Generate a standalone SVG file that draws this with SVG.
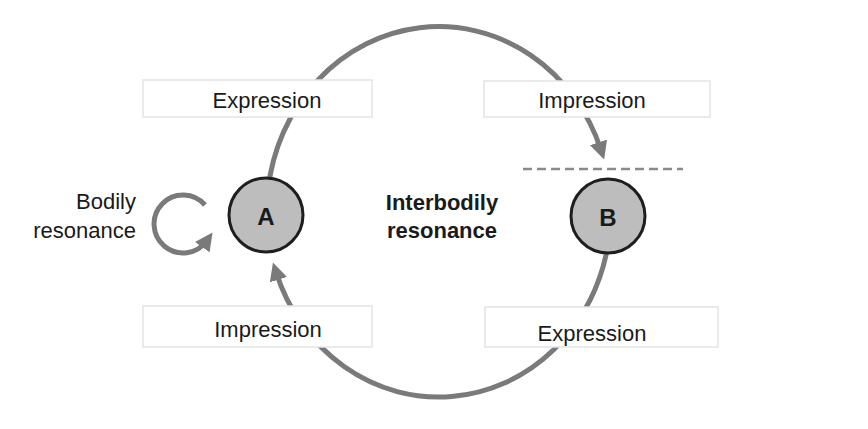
<svg xmlns="http://www.w3.org/2000/svg" width="868" height="429" viewBox="0 0 868 429">
<defs>
<style>
.arc{fill:none;stroke:#7a7a7a;stroke-width:5;stroke-linecap:butt}
.box{fill:#fff;stroke:#e4e4e4;stroke-width:1.5}
.lbl{font-family:"Liberation Sans",Arial,sans-serif;font-size:22px;fill:#1a1a1a}
.bold{font-weight:bold}
.node{fill:#bdbdbd;stroke:#1e1e1e;stroke-width:3}
.dash{stroke:#8a8a8a;stroke-width:2.5;stroke-dasharray:9 5}
</style>
<marker id="ah" markerUnits="userSpaceOnUse" markerWidth="18" markerHeight="18" refX="8" refY="9" orient="auto">
<path d="M0,0 L18,9 L0,18 z" fill="#7a7a7a"/>
</marker>
</defs>
<rect width="868" height="429" fill="#fff"/>
<g id="connectors">
<path class="arc" d="M 268 190 A 172 185 0 0 1 601 150" marker-end="url(#ah)"/>
<path class="arc" d="M 608 245 A 172 185 0 0 1 276 272" marker-end="url(#ah)"/>
<path class="arc" d="M 205 205 A 29 29 0 1 0 206.8 240.6" marker-end="url(#ah)"/>
<line class="dash" x1="523" y1="169" x2="683" y2="169"/>
</g>
<g id="box-expression-a">
<rect class="box" x="143" y="80" width="229" height="37"/>
<text class="lbl" x="267" y="108" text-anchor="middle">Expression</text>
</g>
<g id="box-impression-b">
<rect class="box" x="484" y="81" width="226" height="36"/>
<text class="lbl" x="592" y="108" text-anchor="middle">Impression</text>
</g>
<g id="box-impression-a">
<rect class="box" x="143" y="306" width="229" height="41"/>
<text class="lbl" x="268" y="337" text-anchor="middle">Impression</text>
</g>
<g id="box-expression-b">
<rect class="box" x="485" y="307" width="233" height="40"/>
<text class="lbl" x="592" y="341" text-anchor="middle">Expression</text>
</g>
<g id="node-a">
<circle class="node" cx="266" cy="215" r="37"/>
<text class="lbl bold" x="266" y="225" text-anchor="middle" font-size="24" style="font-size:24px">A</text>
</g>
<g id="node-b">
<circle class="node" cx="608" cy="216" r="37"/>
<text class="lbl bold" x="608" y="226" text-anchor="middle" style="font-size:24px">B</text>
</g>
<g id="label-bodily">
<text class="lbl" x="136" y="209" text-anchor="end">Bodily</text>
<text class="lbl" x="136" y="238" text-anchor="end">resonance</text>
</g>
<g id="label-interbodily">
<text class="lbl bold" x="442" y="210" text-anchor="middle">Interbodily</text>
<text class="lbl bold" x="442" y="238" text-anchor="middle">resonance</text>
</g>
</svg>
